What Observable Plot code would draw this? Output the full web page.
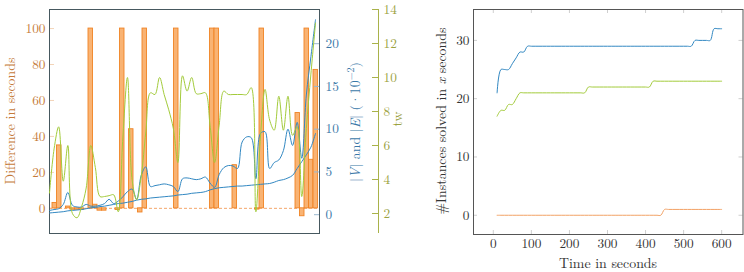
<!DOCTYPE html>
<html><head><meta charset="utf-8">
<script src="https://cdn.jsdelivr.net/npm/d3@7"></script>
<script src="https://cdn.jsdelivr.net/npm/@observablehq/plot@0.6"></script>
<style>
body{margin:0;background:#fff;}
#chart{position:relative;width:744px;height:272px;overflow:hidden;}
#chart svg{position:absolute;left:0;top:0;overflow:visible;}
#chart svg, #chart svg text{font-family:"Latin Modern Roman","Liberation Serif",serif !important;}
</style></head><body><div id="chart"></div>
<script>
// ---- left panel data (one entry per instance) ----
const difference = [3,35,0,1,-0.8,-0.8,-0.8,0,100,2,
  -1.3,-1.3,0,0,-0.9,100,0,44,0,-2.3,
  100,0,0,0,0,0,0,100,0,0,
  0,0,0,0,0,100,100,0,0,0,
  24,0,0,0,0,-0.7,100,0,0,0,
  0,0,0,0,53,-4.4,100,27,77];
const nodesV = [0.2,0.25,0.3,0.35,0.45,0.5,0.55,0.6,0.7,0.8,
  0.85,0.95,1.0,1.1,1.2,1.3,1.35,1.45,1.55,1.7,
  1.8,1.85,1.95,2.0,2.05,2.1,2.15,2.2,2.3,2.35,
  2.4,2.5,2.55,2.6,2.7,2.9,3.05,3.15,3.2,3.25,
  3.3,3.35,3.35,3.4,3.45,3.5,3.55,3.6,3.65,3.8,
  4.0,4.1,4.3,4.6,5.4,6.2,7.0,7.9,9.5];
const edgesE = [0.5,0.6,0.7,1.2,2.6,1.1,0.9,0.9,1.2,1.0,
  1.0,1.1,1.3,1.8,1.3,1.6,2.1,2.7,3.0,1.8,
  4.6,5.6,3.3,3.4,3.5,3.6,3.5,3.3,2.7,4.2,
  4.3,4.2,4.1,4.2,4.4,3.7,3.2,4.7,5.5,5.75,
  5.7,5.4,8.5,9.1,9.0,4.2,9.5,9.7,5.4,6.1,
  6.4,7.5,10.0,8.1,10.8,6.6,14.0,18.5,22.8];
const treewidth = [3.2,5.8,7.1,3.9,6.0,2.0,1.75,2.4,3.5,6.0,
  4.7,3.0,3.0,3.05,3.1,2.1,6.5,10.0,4.0,2.8,
  4.2,6.8,9.1,9.0,10.0,9.0,8.1,7.0,5.0,10.1,
  9.2,10.0,9.05,9.05,9.1,7.2,5.0,7.2,9.2,9.0,
  9.0,9.0,9.0,9.0,9.4,2.1,6.5,9.3,7.5,6.9,
  8.9,6.9,8.9,6.6,7.1,3.0,7.0,10.2,13.2];
const diffTicks = [0,20,40,60,80,100];
const veTicks = [0,5,10,15,20];
const twTicks = [2,4,6,8,10,12,14];

// ---- right panel data ----
const timeSec = [10,20,30,40,50,60,70,80,90,100,110,120,130,140,150,160,170,180,190,200,
  210,220,230,240,250,260,270,280,290,300,310,320,330,340,350,360,370,380,390,400,
  410,420,430,440,450,460,470,480,490,500,510,520,530,540,550,560,570,580,590,600];
const solvedBlue = [21,25,25,25,26,27,28,28,29,29,29,29,29,29,29,29,29,29,29,29,
  29,29,29,29,29,29,29,29,29,29,29,29,29,29,29,29,29,29,29,29,
  29,29,29,29,29,29,29,29,29,29,29,29,30,30,30,30,30,32,32,32];
const solvedGreen = [17,18,18,19,19,20,21,21,21,21,21,21,21,21,21,21,21,21,21,21,
  21,21,21,21,22,22,22,22,22,22,22,22,22,22,22,22,22,22,22,22,
  22,23,23,23,23,23,23,23,23,23,23,23,23,23,23,23,23,23,23,23];
const solvedOrange = [0,0,0,0,0,0,0,0,0,0,0,0,0,0,0,0,0,0,0,0,
  0,0,0,0,0,0,0,0,0,0,0,0,0,0,0,0,0,0,0,0,
  0,0,0,0,1,1,1,1,1,1,1,1,1,1,1,1,1,1,1,1];
const timeTicks = [0,100,200,300,400,500,600];
const solvedTicks = [0,10,20,30];

// ---- colours / layout ----
const W = 744, H = 272;
const FONT = "'Latin Modern Roman','Liberation Serif',serif";
const ORANGE_TXT = "#c57b3a", BLUE = "#3288c2", BLUE_TXT = "#3a78a8", GREEN = "#a3cb3b", GREEN_TXT = "#9ba23f";
const base = {width: W, height: H, style: {fontFamily: FONT, fontSize: "13.3px", background: "transparent", overflow: "visible"}};
const L = {left: 49, right: 319, top: 9, bottom: 233};
const innerW = L.right - L.left;
const lm = {marginLeft: L.left, marginRight: W - L.right, marginTop: L.top, marginBottom: H - L.bottom};

const pBars = Plot.plot({...base, ...lm,
  x: {domain: [-0.667, 59.333], axis: null},
  y: {domain: [-14, 110.6], axis: null},
  marks: [
    Plot.tickY(diffTicks, {y: d => d, stroke: "#f3d4b8", insetRight: innerW - 5}),
    Plot.ruleY([0], {stroke: "#f4a66a", strokeDasharray: "3,2"}),
    Plot.rectY(difference, {x1: (d, i) => i, x2: (d, i) => i + 1, y1: 0, y2: d => d, filter: d => d !== 0,
      fill: "#f9b373", stroke: "#f08324", strokeWidth: 0.9}),
    Plot.axisY(diffTicks, {anchor: "left", tickSize: 0, tickPadding: 4, color: ORANGE_TXT, label: null}),
    Plot.frame({stroke: "#46585f"})
  ]
});

const pBlue = Plot.plot({...base, ...lm,
  x: {domain: [0, 58.87], axis: null},
  y: {domain: [-2.2, 24.0], axis: null},
  marks: [
    Plot.tickY(veTicks, {y: d => d, stroke: "#9bb8cf", insetLeft: innerW - 5}),
    Plot.line(nodesV, {x: (d, i) => i, y: d => d, stroke: BLUE, strokeWidth: 1, curve: "catmull-rom"}),
    Plot.line(edgesE, {x: (d, i) => i, y: d => d, stroke: BLUE, strokeWidth: 1, curve: "catmull-rom"}),
    Plot.axisY(veTicks, {anchor: "right", tickSize: 0, tickPadding: 6, color: BLUE_TXT, label: null})
  ]
});

const greenRight = 378;
const pGreen = Plot.plot({...base, marginLeft: L.left, marginRight: W - greenRight, marginTop: L.top, marginBottom: H - L.bottom,
  x: {domain: [0, 71.74], axis: null},
  y: {domain: [0.824, 14.0], axis: null},
  marks: [
    Plot.ruleX([71.74], {stroke: "#a9b24a"}),
    Plot.tickY(twTicks, {y: d => d, stroke: "#a9b24a", insetLeft: (greenRight - L.left) - 6}),
    Plot.line(treewidth, {x: (d, i) => i, y: d => d, stroke: GREEN, strokeWidth: 1, curve: "catmull-rom"}),
    Plot.axisY(twTicks, {anchor: "right", tickSize: 0, tickPadding: 5, color: GREEN_TXT, label: null})
  ]
});

const R = {left: 473, right: 742.5, top: 9, bottom: 234};
const rW = R.right - R.left, rH = R.bottom - R.top;
const blueRows = timeSec.map((t, i) => ({t, v: solvedBlue[i]}));
const greenRows = timeSec.map((t, i) => ({t, v: solvedGreen[i]}));
const orangeRows = timeSec.map((t, i) => ({t, v: solvedOrange[i]}));
const pRight = Plot.plot({...base, marginLeft: R.left, marginRight: W - R.right, marginTop: R.top, marginBottom: H - R.bottom,
  x: {domain: [-52, 656], axis: null},
  y: {domain: [-3.3, 35.3], axis: null},
  marks: [
    Plot.tickY(solvedTicks, {y: d => d, stroke: "#cfcfcf", insetRight: rW - 4}),
    Plot.tickY(solvedTicks, {y: d => d, stroke: "#cfcfcf", insetLeft: rW - 4}),
    Plot.tickX(timeTicks, {x: d => d, stroke: "#cfcfcf", insetBottom: rH - 4}),
    Plot.tickX(timeTicks, {x: d => d, stroke: "#cfcfcf", insetTop: rH - 4}),
    Plot.line(orangeRows, {x: "t", y: "v", stroke: "#f2a266", strokeWidth: 1, curve: "catmull-rom"}),
    Plot.line(greenRows, {x: "t", y: "v", stroke: GREEN, strokeWidth: 1, curve: "catmull-rom"}),
    Plot.line(blueRows, {x: "t", y: "v", stroke: BLUE, strokeWidth: 1, curve: "catmull-rom"}),
    Plot.axisY(solvedTicks, {anchor: "left", tickSize: 0, tickPadding: 4, color: "#333", label: null}),
    Plot.axisX(timeTicks, {anchor: "bottom", tickSize: 0, tickPadding: 4, color: "#333", label: null}),
    Plot.frame({stroke: "#555"})
  ]
});

const chart = document.getElementById("chart");
[pBars, pBlue, pGreen, pRight].forEach(p => chart.appendChild(p));

// ---- axis titles ----
const lab = d3.select(chart).append("svg").attr("width", W).attr("height", H)
  .style("font-size", "13.9px");
function vlabel(x, y, color) {
  return lab.append("text").attr("transform", `translate(${x},${y}) rotate(-90)`)
    .attr("text-anchor", "middle").attr("fill", color);
}
vlabel(15, 121, ORANGE_TXT).text("Difference in seconds");
const tb = vlabel(360, 122, BLUE_TXT);
tb.append("tspan").text("|");
tb.append("tspan").attr("font-style", "italic").text("V");
tb.append("tspan").text("| and |");
tb.append("tspan").attr("font-style", "italic").text("E");
tb.append("tspan").text("| (·10");
tb.append("tspan").attr("font-size", "10px").attr("dy", "-6").text("−2");
tb.append("tspan").attr("dy", "6").text(")");
vlabel(402, 119, GREEN_TXT).text("tw");
const tr = vlabel(446, 121, "#333");
tr.append("tspan").text("#Instances solved in ");
tr.append("tspan").attr("font-style", "italic").text("x");
tr.append("tspan").text(" seconds");
lab.append("text").attr("x", 608).attr("y", 267.5).attr("text-anchor", "middle").attr("fill", "#333").text("Time in seconds");
</script></body></html>
